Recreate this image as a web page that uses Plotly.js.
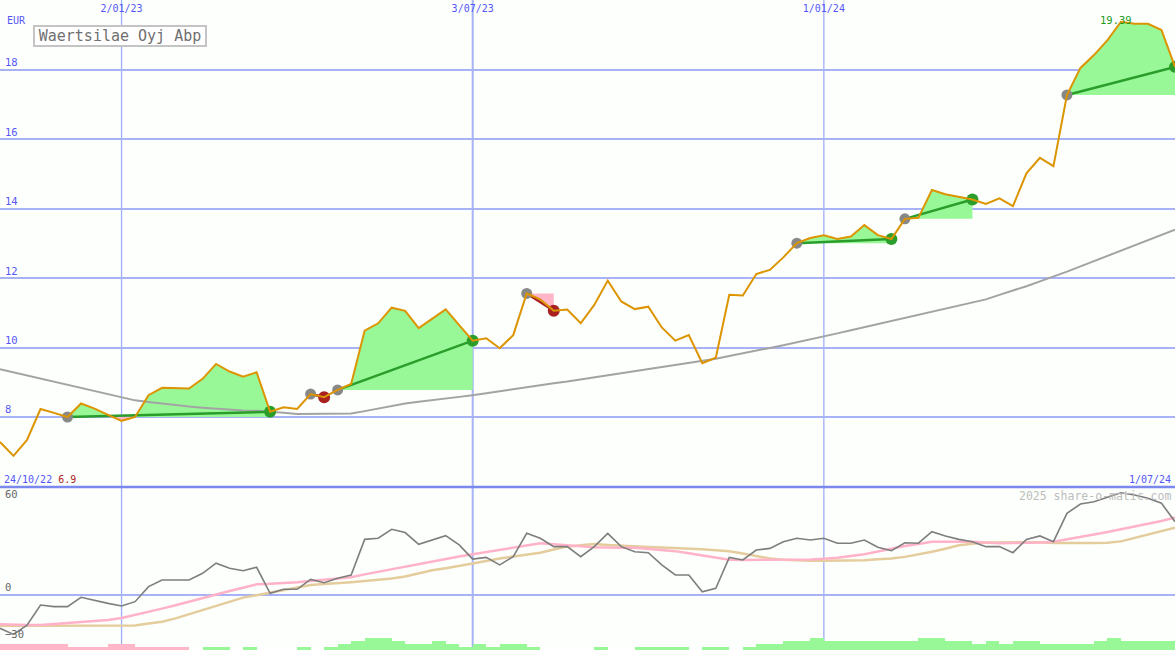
<!DOCTYPE html>
<html><head><meta charset="utf-8">
<script src="https://cdn.plot.ly/plotly-3.0.1.min.js"></script>
<style>html,body{margin:0;padding:0;background:#fcfffc;}#chart{width:1175px;height:650px;}</style>
</head><body><div id="chart"></div>
<script>
// ---------------- data ----------------
const dates = ['2022-10-31','2022-11-07','2022-11-14','2022-11-21','2022-11-28','2022-12-05','2022-12-12','2022-12-19','2022-12-26','2023-01-02',
'2023-01-09','2023-01-16','2023-01-23','2023-01-30','2023-02-06','2023-02-13','2023-02-20','2023-02-27','2023-03-06','2023-03-13',
'2023-03-20','2023-03-27','2023-04-03','2023-04-10','2023-04-17','2023-04-24','2023-05-01','2023-05-08','2023-05-15','2023-05-22',
'2023-05-29','2023-06-05','2023-06-12','2023-06-19','2023-06-26','2023-07-03','2023-07-10','2023-07-17','2023-07-24','2023-07-31',
'2023-08-07','2023-08-14','2023-08-21','2023-08-28','2023-09-04','2023-09-11','2023-09-18','2023-09-25','2023-10-02','2023-10-09',
'2023-10-16','2023-10-23','2023-10-30','2023-11-06','2023-11-13','2023-11-20','2023-11-27','2023-12-04','2023-12-11','2023-12-18',
'2023-12-25','2024-01-01','2024-01-08','2024-01-15','2024-01-22','2024-01-29','2024-02-05','2024-02-12','2024-02-19','2024-02-26',
'2024-03-04','2024-03-11','2024-03-18','2024-03-25','2024-04-01','2024-04-08','2024-04-15','2024-04-22','2024-04-29','2024-05-06',
'2024-05-13','2024-05-20','2024-05-27','2024-06-03','2024-06-10','2024-06-17','2024-06-24','2024-07-01'];

const price = [7.28,6.88,7.34,8.23,8.12,8.00,8.39,8.24,8.06,7.89,
8.00,8.63,8.84,8.84,8.82,9.10,9.53,9.31,9.16,9.29,
8.15,8.28,8.23,8.66,8.57,8.78,8.95,10.49,10.70,11.15,
11.06,10.56,10.84,11.10,10.65,10.20,10.27,9.98,10.36,11.56,
11.39,11.06,11.10,10.70,11.23,11.93,11.33,11.11,11.18,10.58,
10.20,10.36,9.55,9.71,11.52,11.50,12.12,12.24,12.60,13.01,
13.16,13.24,13.13,13.20,13.53,13.24,13.13,13.71,13.74,14.54,
14.42,14.35,14.27,14.14,14.30,14.08,15.02,15.47,15.23,17.28,
18.06,18.43,18.86,19.39,19.33,19.33,19.15,18.09];

const movingAvg = [9.38,9.29,9.20,9.10,9.01,8.93,8.84,8.75,8.66,8.56,
8.48,8.43,8.38,8.33,8.30,8.27,8.24,8.21,8.19,8.18,
8.16,8.12,8.09,8.09,8.09,8.09,8.10,8.17,8.24,8.33,
8.39,8.44,8.48,8.53,8.58,8.63,8.69,8.74,8.80,8.85,
8.91,8.97,9.02,9.08,9.12,9.18,9.24,9.30,9.36,9.42,
9.48,9.54,9.61,9.68,9.76,9.83,9.91,9.99,10.07,10.15,
10.24,10.33,10.41,10.50,10.59,10.67,10.76,10.85,10.94,11.03,
11.11,11.20,11.29,11.39,11.52,11.64,11.77,11.91,12.04,12.19,
12.34,12.49,12.64,12.80,12.95,13.10,13.25,13.40];

const oscillator = [-21.5,-25.4,-19.4,-6.5,-7.5,-7.5,-1.5,-3.7,-5.4,-7.1,
-4.3,5.4,9.7,9.7,9.7,14.0,20.5,17.2,15.7,17.9,
1.1,3.7,3.7,10.1,7.9,10.8,12.9,35.9,36.6,42.4,
40.3,32.7,35.5,38.3,32.3,23.2,24.3,19.4,24.7,39.8,
36.6,31.2,31.2,24.7,31.2,39.8,31.2,27.9,27.3,19.4,
12.9,12.9,2.1,4.3,24.3,22.6,29.0,30.1,34.4,36.6,
35.5,36.6,33.4,33.4,35.5,30.8,28.6,33.7,33.4,40.8,
38.1,35.9,34.4,31.2,31.2,27.3,35.9,38.1,34.4,52.7,
58.7,60.2,63.0,66.0,64.5,62.4,59.2,47.3];

const oscFast = [-18.9,-19.2,-19.4,-19.3,-18.7,-18.2,-17.6,-17.0,-16.1,-14.8,
-12.9,-11.0,-8.8,-6.6,-4.2,-1.7,0.4,2.6,4.7,6.9,
7.2,7.6,8.3,9.1,9.9,10.7,11.5,13.3,15.0,16.8,
18.4,19.9,21.4,23.1,24.8,26.3,27.7,29.0,30.5,31.9,
33.4,32.8,32.3,31.5,30.8,30.5,30.5,30.5,29.9,29.3,
28.3,26.9,25.5,23.8,22.8,22.6,22.6,22.6,22.6,22.6,
22.9,23.4,24.0,25.2,26.3,28.1,29.9,31.6,32.9,34.3,
34.4,34.4,34.4,33.8,33.4,33.5,33.6,33.9,34.4,35.8,
37.2,39.0,40.7,42.5,44.2,45.9,47.8,50.1];

const oscSlow = [-19.8,-19.8,-19.8,-19.8,-19.8,-19.8,-19.8,-19.8,-19.8,-19.8,
-19.7,-18.4,-17.2,-15.1,-12.4,-9.4,-6.6,-4.1,-1.7,-0.1,
1.5,3.4,5.1,6.5,7.1,7.9,8.3,9.0,9.7,10.6,
11.9,13.9,16.0,17.3,18.6,20.3,21.9,23.6,24.8,25.9,
27.3,29.3,31.2,32.1,32.9,32.3,31.7,31.2,30.9,30.6,
30.3,30.0,29.5,28.8,28.2,26.8,25.0,23.5,22.8,22.3,
22.1,22.1,22.1,22.1,22.5,23.1,23.5,24.6,26.1,27.9,
29.9,32.1,33.0,33.8,33.9,34.1,34.3,34.1,33.6,33.4,
33.5,33.6,33.7,34.6,36.7,39.0,41.2,43.4];

const flow = [-2,-2,-2,-2,-2,-1,-1,-1,-2,-2,
-1,-1,-1,-1,0,1,1,0,1,0,
0,0,1,0,1,2,3,4,4,3,
2,2,3,2,1,2,1,2,2,1,
0,0,0,0,1,0,0,1,1,1,
1,0,1,1,0,1,2,2,3,3,
4,3,3,3,3,3,3,3,4,4,
3,3,2,3,2,3,3,2,2,2,
2,3,4,3,3,3,3,3];

const tradeEntry = ['2022-12-05','2023-04-10','2023-04-24','2023-07-31','2023-12-18','2024-02-12','2024-05-06'];
const tradeExit  = ['2023-03-20','2023-04-17','2023-07-03','2023-08-14','2024-02-05','2024-03-18','2024-07-01'];

const xTickVals = ['2023-01-02','2023-07-03','2024-01-01'];
const xTickText = ['2/01/23','3/07/23','1/01/24'];
const priceTicks = [8,10,12,14,16,18];
const oscTicks = [60,0,-30];
const chartTitle = 'Waertsilae Oyj Abp';
const currency = 'EUR';
const startLabel = '24/10/22';
const endLabel = '1/07/24';
const watermark = '2025 share-o-matic.com';

// ---------------- helpers ----------------
const W = 1175, H = 650;
const SPLIT = 487;               // px boundary between panels
const splitPaper = 1 - SPLIT / H;
const px = v => v / W;
const py = v => 1 - v / H;
const toMs = d => Date.parse(d + 'T00:00:00Z');
const msToStr = ms => new Date(ms).toISOString().slice(0, 19).replace('T', ' ');
const FONT = 'DejaVu Sans Mono';
const BLUE = '#5656f8';
const GRID = '#a7b3f6';
const GREEN_FILL = '#98f898';
const PINK_FILL = '#ffb6c8';
const WIN = '#2a9d2a';
const LOSS = '#a82020';

function clipPoly(i0, i1, level, above) {
  const xs = [], ys = [];
  for (let i = i0; i <= i1; i++) {
    if (i > i0) {
      const a = price[i - 1] - level, b = price[i] - level;
      if ((a > 0 && b < 0) || (a < 0 && b > 0)) {
        const t = a / (a - b);
        const ms = toMs(dates[i - 1]) + t * (toMs(dates[i]) - toMs(dates[i - 1]));
        xs.push(msToStr(ms)); ys.push(level);
      }
    }
    xs.push(dates[i]);
    ys.push(above ? Math.max(price[i], level) : Math.min(price[i], level));
  }
  xs.push(dates[i1]); ys.push(level);
  xs.push(dates[i0]); ys.push(level);
  return { xs, ys };
}

const traces = [];

// trade fills
tradeEntry.forEach((d, n) => {
  const i0 = dates.indexOf(d), i1 = dates.indexOf(tradeExit[n]);
  const level = price[i0];
  [[true, GREEN_FILL], [false, PINK_FILL]].forEach(([above, col]) => {
    const p = clipPoly(i0, i1, level, above);
    traces.push({ type: 'scatter', mode: 'lines', x: p.xs, y: p.ys, fill: 'toself',
      fillcolor: col, line: { width: 0, color: col }, hoverinfo: 'skip', showlegend: false,
      xaxis: 'x', yaxis: 'y' });
  });
});

// long moving average
traces.push({ type: 'scatter', mode: 'lines', x: dates, y: movingAvg,
  line: { color: '#a3a3a3', width: 2 }, hoverinfo: 'skip', xaxis: 'x', yaxis: 'y' });

// trade lines and markers
const entX = [], entY = [], exX = [], exY = [], exC = [];
tradeEntry.forEach((d, n) => {
  const i0 = dates.indexOf(d), i1 = dates.indexOf(tradeExit[n]);
  const win = price[i1] >= price[i0];
  traces.push({ type: 'scatter', mode: 'lines', x: [dates[i0], dates[i1]], y: [price[i0], price[i1]],
    line: { color: win ? WIN : LOSS, width: 2.5 }, hoverinfo: 'skip', xaxis: 'x', yaxis: 'y' });
  entX.push(dates[i0]); entY.push(price[i0]);
  exX.push(dates[i1]); exY.push(price[i1]); exC.push(win ? WIN : LOSS);
});
traces.push({ type: 'scatter', mode: 'markers', x: entX, y: entY,
  marker: { color: '#888888', size: 11 }, hoverinfo: 'skip', xaxis: 'x', yaxis: 'y' });
traces.push({ type: 'scatter', mode: 'markers', x: exX, y: exY,
  marker: { color: exC, size: 12 }, hoverinfo: 'skip', xaxis: 'x', yaxis: 'y' });

// price
traces.push({ type: 'scatter', mode: 'lines', x: dates, y: price,
  line: { color: '#dc9400', width: 2 }, hoverinfo: 'skip', xaxis: 'x', yaxis: 'y' });

// lower panel bars (overlaid on lower panel)
traces.push({ type: 'bar', x: dates, y: flow.map(Math.abs), offset: 0, width: 7 * 86400000,
  marker: { color: flow.map(v => v < 0 ? PINK_FILL : GREEN_FILL), line: { width: 0 } },
  hoverinfo: 'skip', xaxis: 'x', yaxis: 'y3' });

// lower panel lines
traces.push({ type: 'scatter', mode: 'lines', x: dates, y: oscSlow,
  line: { color: '#e4cc9c', width: 2.5 }, hoverinfo: 'skip', xaxis: 'x', yaxis: 'y2' });
traces.push({ type: 'scatter', mode: 'lines', x: dates, y: oscFast,
  line: { color: '#ffb2c8', width: 2.5 }, hoverinfo: 'skip', xaxis: 'x', yaxis: 'y2' });
traces.push({ type: 'scatter', mode: 'lines', x: dates, y: oscillator,
  line: { color: '#7e7e7e', width: 1.6 }, hoverinfo: 'skip', xaxis: 'x', yaxis: 'y2' });

// ---------------- layout ----------------
const priceMin = Math.min(...price), priceMax = Math.max(...price);
const maxIdx = price.indexOf(priceMax);

const shapes = xTickVals.map((d, i) => ({ type: 'line', xref: 'x', yref: 'paper', x0: d, x1: d, y0: 0, y1: 1,
  line: { color: i === 1 ? GRID : '#9fadf8', width: i === 1 ? 2 : 1.3 }, layer: 'below' }));
shapes.push({ type: 'line', xref: 'paper', yref: 'paper', x0: 0, x1: 1, y0: splitPaper, y1: splitPaper,
  line: { color: '#7b88ee', width: 2.5 } });

const annotations = [
  { xref: 'paper', yref: 'paper', x: px(5), y: py(20), xanchor: 'left', yanchor: 'middle', showarrow: false,
    text: currency, font: { family: FONT, size: 10, color: BLUE } },
  { xref: 'paper', yref: 'paper', x: px(120), y: py(36), xanchor: 'center', yanchor: 'middle', showarrow: false,
    text: chartTitle, width: 170, height: 18, borderpad: 0, borderwidth: 2, bordercolor: '#c4c4c4', bgcolor: '#ffffff',
    font: { family: FONT, size: 15, color: '#707070' } },
  { xref: 'x', yref: 'y', x: dates[maxIdx], y: priceMax, xanchor: 'center', yanchor: 'middle', showarrow: false,
    xshift: -5, yshift: 2, text: priceMax.toFixed(2), font: { family: FONT, size: 10.5, color: '#1f9a1f' } },
  { xref: 'paper', yref: 'paper', x: px(2), y: py(479), xanchor: 'left', yanchor: 'middle', showarrow: false,
    text: startLabel + ' <span style="color:#b02424">' + priceMin.toFixed(1) + '</span>',
    font: { family: FONT, size: 10, color: BLUE } },
  { xref: 'paper', yref: 'paper', x: px(1173), y: py(479), xanchor: 'right', yanchor: 'middle', showarrow: false,
    text: endLabel, font: { family: FONT, size: 10, color: BLUE } },
  { xref: 'paper', yref: 'paper', x: px(1173), y: py(496), xanchor: 'right', yanchor: 'middle', showarrow: false,
    text: watermark, font: { family: FONT, size: 11.5, color: '#bdbdbd' } }
];

const lowerRange = [-35.48, 69.68];
const layout = {
  width: W, height: H,
  margin: { l: 0, r: 0, t: 0, b: 0, pad: 0 },
  paper_bgcolor: '#fcfffc', plot_bgcolor: '#fcfffc',
  showlegend: false, hovermode: false, bargap: 0,
  xaxis: { domain: [0, 1], type: 'date', range: ['2022-10-31', '2024-07-01'], anchor: 'y', side: 'top',
    tickvals: xTickVals, ticktext: xTickText, ticklabelposition: 'inside', ticklabelstandoff: 2, ticks: '',
    showgrid: false, zeroline: false, showline: false, fixedrange: true,
    tickfont: { family: FONT, size: 10, color: BLUE } },
  yaxis: { domain: [splitPaper, 1], range: [5.983, 20.017], tickvals: priceTicks,
    ticklabelposition: 'inside top', ticklabelstandoff: 2, ticks: '', showline: false, zeroline: false,
    gridcolor: GRID, gridwidth: 2, tickfont: { family: FONT, size: 10.5, color: BLUE } },
  yaxis2: { domain: [0, splitPaper], range: lowerRange, tickvals: oscTicks, anchor: 'x',
    ticklabelposition: 'inside top', ticklabelstandoff: 2, ticks: '', showline: false, showgrid: false,
    zeroline: true, zerolinecolor: GRID, zerolinewidth: 2,
    tickfont: { family: FONT, size: 10.5, color: '#666666' } },
  yaxis3: { overlaying: 'y2', range: [0, 53], anchor: 'x', visible: false, showgrid: false, zeroline: false },
  shapes: shapes,
  annotations: annotations
};

Plotly.newPlot('chart', traces, layout, { displayModeBar: false, staticPlot: true });
</script>
</body></html>
